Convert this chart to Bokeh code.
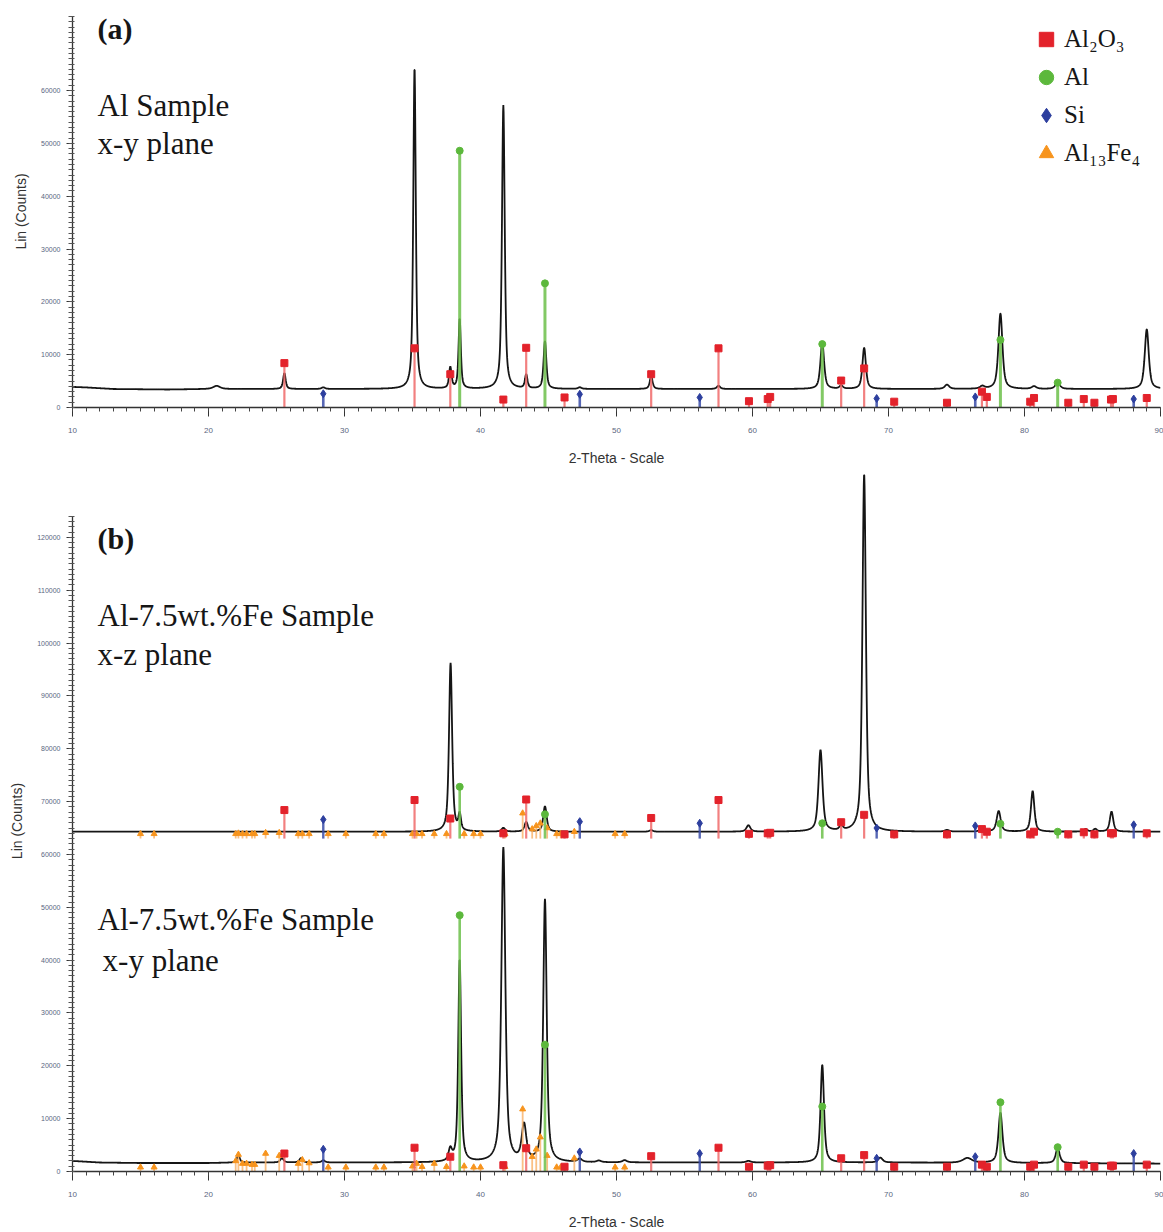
import numpy as np
from bokeh.plotting import figure
from bokeh.models import (Range1d, FixedTicker, BasicTickFormatter, Label, Legend, LegendItem)
from bokeh.layouts import column
from bokeh.embed import file_html
from bokeh.resources import INLINE

# ---------------- reference stick patterns (2-theta, deg) ----------------
al2o3_pos = [25.58, 35.15, 37.78, 41.68, 43.36, 46.18, 52.55, 57.50, 59.74, 61.12, 61.30,
             66.52, 68.21, 70.42, 74.30, 76.87, 77.23, 80.42, 80.70, 83.22, 84.36, 85.14,
             86.36, 86.50, 88.99]
al_pos = [38.47, 44.74, 65.13, 78.23, 82.44]
si_pos = [28.44, 47.30, 56.12, 69.13, 76.38, 88.03]
al13fe4_pos = [15.0, 16.0, 22.0, 22.2, 22.5, 22.8, 23.2, 23.4, 24.2, 25.2, 26.6, 26.9, 27.4,
               28.8, 30.1, 32.3, 32.9, 35.0, 35.3, 35.7, 36.6, 37.5, 38.8, 39.5, 40.0, 41.8,
               43.1, 43.8, 44.1, 44.4, 44.9, 45.6, 45.9, 46.9, 49.9, 50.6]

# stick tops, panel (a) Al sample x-y plane
a_al2o3_top = [8400, 11200, 6300, 1500, 11300, 1900, 6300, 11200, 1200, 1600, 2000, 5100, 7400,
               1100, 900, 3000, 2000, 1100, 1800, 900, 1600, 900, 1500, 1600, 1800]
a_al_top = [48600, 23500, 12000, 12800, 4700]
a_si_top = [2600, 2500, 1900, 1700, 2000, 1600]
a_stick_base = 0

# stick tops, panel (b) Al-7.5wt.%Fe x-z plane (offset pattern)
xz_al2o3_top = [68400, 70300, 66800, 64000, 70400, 63800, 66900, 70300, 63900, 64000, 64100,
                66100, 67500, 63800, 63800, 64800, 64300, 63800, 64300, 63800, 64200, 63800,
                64000, 64000, 64000]
xz_al_top = [72800, 67600, 65900, 65800, 64300]
xz_si_top = [66600, 66200, 65900, 65000, 65400, 65600]
xz_al13fe4_top = [63900, 63900, 63900, 64000, 63900, 63900, 63900, 63900, 64100, 64100, 63900,
                  63900, 63900, 63900, 63900, 63900, 63900, 63900, 63900, 63900, 63900, 63900,
                  63900, 63900, 63900, 63900, 67800, 64800, 65400, 65900, 65000, 63900, 63900,
                  64300, 63900, 63900]
xz_stick_base = 63000

# stick tops, panel (b) Al-7.5wt.%Fe x-y plane
xy_al2o3_top = [3400, 4500, 2800, 1200, 4400, 900, 2900, 4500, 900, 1100, 1200, 2500, 3100,
                900, 900, 1300, 900, 900, 1300, 900, 1300, 900, 1100, 1100, 1300]
xy_al_top = [48500, 24000, 12300, 13100, 4600]
xy_si_top = [4200, 3700, 3400, 2500, 2800, 3400]
xy_al13fe4_top = [800, 800, 2000, 3200, 1500, 1500, 1300, 1300, 3400, 3000, 1500, 2200, 1600,
                  800, 800, 800, 800, 1000, 1500, 900, 1500, 900, 1000, 800, 800, 900, 11800,
                  2800, 4200, 6500, 3000, 800, 800, 2500, 800, 800]
xy_stick_base = 0

# ---------------- measured patterns (peak table + background) ----------------
a_bg_x = [10, 11, 13, 17, 20, 30, 40, 50, 60, 70, 80, 90]
a_bg_y = [3900, 3800, 3500, 3400, 3500, 3500, 3500, 3500, 3500, 3500, 3500, 3500]
a_pk_pos = [20.6, 25.58, 28.44, 35.15, 37.78, 38.47, 41.68, 43.36, 44.74, 47.3, 52.55, 57.5,
            65.13, 66.52, 68.21, 74.3, 76.9, 78.23, 80.7, 82.44, 88.99]
a_pk_h = [600, 3000, 300, 60800, 4000, 13200, 53700, 2600, 9000, 300, 2400, 600,
          8800, 600, 7800, 800, 500, 14300, 500, 1200, 11300]
a_pk_w = [0.6, 0.22, 0.3, 0.22, 0.22, 0.2, 0.24, 0.22, 0.24, 0.3, 0.25, 0.3,
          0.32, 0.3, 0.3, 0.4, 0.4, 0.35, 0.4, 0.4, 0.35]

xz_bg_x = [10, 20, 30, 40, 50, 60, 70, 80, 90]
xz_bg_y = [64300, 64300, 64300, 64300, 64300, 64300, 64300, 64300, 64300]
xz_pk_pos = [37.8, 38.47, 41.68, 43.36, 44.74, 52.55, 59.7, 65.0, 66.52, 68.21, 74.3, 76.9,
             78.1, 80.6, 84.5, 85.2, 86.4]
xz_pk_h = [31900, 3000, 700, 1800, 4800, 300, 1200, 15400, 900, 67700, 300, 650,
           3900, 7700, 500, 500, 3800]
xz_pk_w = [0.27, 0.22, 0.3, 0.3, 0.3, 0.3, 0.35, 0.35, 0.3, 0.3, 0.4, 0.35,
           0.35, 0.3, 0.3, 0.3, 0.3]

xy_bg_x = [10, 12, 15, 20, 22, 30, 40, 50, 60, 70, 80, 90]
xy_bg_y = [2000, 1700, 1600, 1600, 1700, 1700, 1700, 1700, 1700, 1700, 1600, 1500]
xy_pk_pos = [22.2, 25.4, 26.8, 28.44, 37.78, 38.47, 41.68, 43.2, 44.74, 47.3, 48.7, 50.6,
             59.7, 65.13, 69.4, 75.8, 78.23, 82.44]
xy_pk_h = [1300, 800, 800, 400, 2200, 38300, 59500, 6800, 49700, 600, 300, 400,
           300, 18500, 900, 900, 9500, 2800]
xy_pk_w = [0.25, 0.3, 0.3, 0.3, 0.3, 0.25, 0.35, 0.4, 0.3, 0.4, 0.4, 0.4,
           0.4, 0.3, 0.4, 0.8, 0.35, 0.35]

x_ticks = [10, 20, 30, 40, 50, 60, 70, 80, 90]
a_y_ticks = [0, 10000, 20000, 30000, 40000, 50000, 60000]
b_y_ticks = [0, 10000, 20000, 30000, 40000, 50000, 60000, 70000, 80000, 90000, 100000,
             110000, 120000]

RED, RED_L = "#e3222b", "#f06a6a"
GRN, GRN_L = "#5cb83c", "#6cc04a"
BLU, BLU_L = "#2d3f9e", "#3a4ca8"
ORA, ORA_L = "#f7941d", "#f9b56e"
SERIF = "Liberation Serif"
SANS = "Liberation Sans"


def pattern(bg_x, bg_y, pos, h, w):
    x = np.linspace(10, 90, 4001)
    y = np.interp(x, bg_x, bg_y)
    for c, hh, ww in zip(pos, h, w):
        t = (x - c) / (ww / 2.0)
        lor = 1.0 / (1.0 + t ** 2)
        gau = np.exp(-np.log(2) * t ** 2)
        y = y + hh * (0.65 * lor + 0.35 * gau)
    return x, y


def sticks(p, pos, tops, base, lcolor, mcolor, marker, size, lw=2.2):
    p.segment(x0=pos, y0=[base] * len(pos), x1=pos, y1=tops, line_color=lcolor,
              line_width=lw, line_alpha=0.85)
    return p.scatter(x=pos, y=tops, marker=marker, size=size, fill_color=mcolor,
                     line_color=mcolor)


def style(p, y_major, y_top, axis_top):
    xa = p.xaxis[0]
    xa.ticker = FixedTicker(ticks=x_ticks, minor_ticks=list(range(10, 91)))
    xa.axis_label = "2-Theta - Scale"
    xa.axis_label_text_font = SANS
    xa.axis_label_text_font_size = "14px"
    xa.axis_label_text_font_style = "normal"
    xa.axis_label_text_color = "#333333"
    xa.axis_label_standoff = 14
    xa.major_label_text_font = SANS
    xa.major_label_text_font_size = "8px"
    xa.major_label_text_color = "#5a6680"
    xa.major_label_standoff = 11
    xa.major_tick_out = 9
    xa.major_tick_in = 0
    xa.minor_tick_out = 4
    xa.minor_tick_in = 0
    xa.axis_line_color = "#333333"
    xa.axis_line_width = 1.3
    xa.major_tick_line_color = "#333333"
    xa.minor_tick_line_color = "#444444"

    ya = p.yaxis[0]
    ya.ticker = FixedTicker(ticks=y_major, minor_ticks=list(range(0, axis_top + 1, 1000)))
    ya.formatter = BasicTickFormatter(use_scientific=False)
    ya.bounds = (0, axis_top)
    ya.axis_label = "Lin (Counts)"
    ya.axis_label_text_font = SANS
    ya.axis_label_text_font_size = "14px"
    ya.axis_label_text_font_style = "normal"
    ya.axis_label_text_color = "#333333"
    ya.axis_label_standoff = 9
    ya.major_label_text_font = SANS
    ya.major_label_text_font_size = "7px"
    ya.major_label_text_color = "#5a6680"
    ya.major_label_standoff = 6
    ya.major_tick_out = 6
    ya.major_tick_in = 0
    ya.minor_tick_out = 4
    ya.minor_tick_in = 2
    ya.axis_line_color = "#333333"
    ya.axis_line_width = 1.3
    ya.major_tick_line_color = "#333333"
    ya.minor_tick_line_color = "#555555"

    p.grid.visible = False
    p.outline_line_color = None
    p.background_fill_color = "white"
    p.border_fill_color = "white"


def text(p, x, y, s, size="31px", bold=False):
    p.add_layout(Label(x=x, y=y, text=s, text_font=SERIF, text_font_size=size,
                       text_font_style="bold" if bold else "normal",
                       text_color="#161616", text_baseline="middle", text_align="left"))


# ---------------- panel (a) ----------------
pa = figure(width=1163, height=470, output_backend="svg", toolbar_location=None,
            x_range=Range1d(10, 90), y_range=Range1d(0, 74200),
            min_border_left=72, min_border_right=3, min_border_top=15, min_border_bottom=63)
style(pa, a_y_ticks, 74200, 74000)
ax, ay = pattern(a_bg_x, a_bg_y, a_pk_pos, a_pk_h, a_pk_w)
pa.line(ax, ay, line_color="#151515", line_width=1.8)
r_red = sticks(pa, al2o3_pos, a_al2o3_top, a_stick_base, RED_L, RED, "square", 7)
r_grn = sticks(pa, al_pos, a_al_top, a_stick_base, GRN_L, GRN, "circle", 7, lw=3)
r_blu = sticks(pa, si_pos, a_si_top, a_stick_base, BLU_L, BLU, "diamond", 8, lw=2.6)
# legend-only renderer: no Al13Fe4 reflections are marked in panel (a)
r_ora = pa.scatter(x=[np.nan], y=[np.nan], marker="triangle", fill_color=ORA, line_color=ORA)

text(pa, 11.84, 71700, "(a)", size="30px", bold=True)
text(pa, 11.84, 57160, "Al Sample")
text(pa, 11.84, 49970, "x-y plane")

legend = Legend(items=[LegendItem(label="Al₂O₃", renderers=[r_red]),
                       LegendItem(label="Al", renderers=[r_grn]),
                       LegendItem(label="Si", renderers=[r_blu]),
                       LegendItem(label="Al₁₃Fe₄", renderers=[r_ora])],
                location=(956, 236), orientation="vertical",
                glyph_width=36, glyph_height=36, label_height=37, label_standoff=-6,
                spacing=1, padding=0, margin=0, border_line_color=None,
                background_fill_alpha=0, label_text_font=SERIF,
                label_text_font_size="25px", label_text_color="#161616")
pa.add_layout(legend)

# ---------------- panel (b) ----------------
pb = figure(width=1163, height=762, output_backend="svg", toolbar_location=None,
            x_range=Range1d(10, 90), y_range=Range1d(0, 132660),
            min_border_left=72, min_border_right=3, min_border_top=0, min_border_bottom=60)
style(pb, b_y_ticks, 132660, 124000)
zx, zy = pattern(xz_bg_x, xz_bg_y, xz_pk_pos, xz_pk_h, xz_pk_w)
yx, yy = pattern(xy_bg_x, xy_bg_y, xy_pk_pos, xy_pk_h, xy_pk_w)
pb.line(zx, zy, line_color="#151515", line_width=1.8)
pb.line(yx, yy, line_color="#151515", line_width=1.8)

sticks(pb, al13fe4_pos, xz_al13fe4_top, xz_stick_base, ORA_L, ORA, "triangle", 6, lw=1.8)
sticks(pb, al2o3_pos, xz_al2o3_top, xz_stick_base, RED_L, RED, "square", 7)
sticks(pb, al_pos, xz_al_top, xz_stick_base, GRN_L, GRN, "circle", 7, lw=2.6)
sticks(pb, si_pos, xz_si_top, xz_stick_base, BLU_L, BLU, "diamond", 8, lw=2.4)

sticks(pb, al13fe4_pos, xy_al13fe4_top, xy_stick_base, ORA_L, ORA, "triangle", 6, lw=1.8)
sticks(pb, al2o3_pos, xy_al2o3_top, xy_stick_base, RED_L, RED, "square", 7)
sticks(pb, al_pos, xy_al_top, xy_stick_base, GRN_L, GRN, "circle", 7, lw=2.6)
sticks(pb, si_pos, xy_si_top, xy_stick_base, BLU_L, BLU, "diamond", 8, lw=2.4)

text(pb, 11.84, 119810, "(b)", size="30px", bold=True)
text(pb, 11.84, 105260, "Al-7.5wt.%Fe Sample")
text(pb, 11.84, 97890, "x-z plane")
text(pb, 11.84, 47620, "Al-7.5wt.%Fe Sample")
text(pb, 12.21, 39870, "x-y plane")

layout = column(pa, pb, spacing=0)
open("out.html", "w").write(file_html(layout, INLINE))
